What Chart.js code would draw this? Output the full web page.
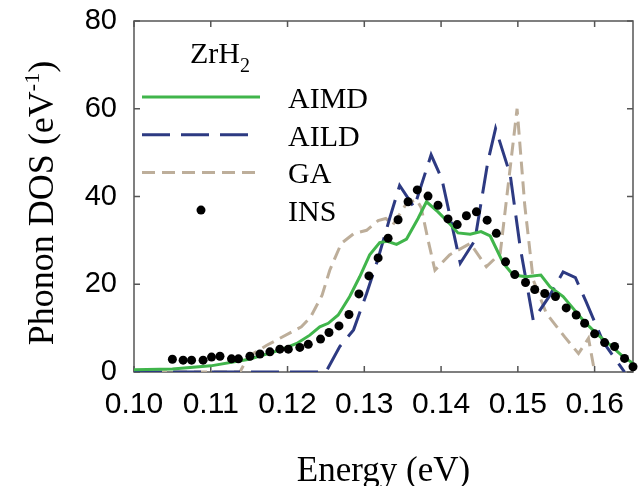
<!DOCTYPE html>
<html>
<head>
<meta charset="utf-8">
<script src="https://cdn.jsdelivr.net/npm/chart.js@4.4.0/dist/chart.umd.min.js"></script>
<style>
  html, body { margin: 0; padding: 0; background: #fff; }
  canvas { display: block; }
</style>
</head>
<body>
<canvas id="dosChart" width="641" height="486"></canvas>
<script>
// ZrH2 phonon density of states
var xTickValues = [0.10, 0.11, 0.12, 0.13, 0.14, 0.15, 0.16];
var yTickValues = [0, 20, 40, 60, 80];

var energyAIMD = [0.1000, 0.1050, 0.1100, 0.1150, 0.1190, 0.1212, 0.1229, 0.1242, 0.1253, 0.1266,
  0.1281, 0.1294, 0.1307, 0.1320, 0.1330, 0.1342, 0.1355, 0.1370, 0.1381, 0.1396,
  0.1410, 0.1422, 0.1438, 0.1452, 0.1464, 0.1481, 0.1494, 0.1511, 0.1530, 0.1542,
  0.1559, 0.1572, 0.1585, 0.1602, 0.1620, 0.1637, 0.1650];
var dosAIMD = [0.5, 0.7, 1.4, 2.9, 5.0, 6.5, 8.4, 10.3, 11.1, 13.0,
  17.2, 21.7, 26.7, 29.5, 29.8, 29.1, 30.3, 35.0, 38.8, 36.5,
  34.0, 31.7, 31.4, 32.0, 31.0, 24.8, 22.1, 21.7, 22.1, 19.4,
  17.2, 14.5, 11.8, 8.8, 6.2, 3.5, 2.0];

var energyAILD = [0.1000, 0.1250, 0.1268, 0.1286, 0.1303, 0.1318, 0.1333, 0.1346, 0.1365, 0.1387,
  0.1401, 0.1425, 0.1444, 0.1461, 0.1471, 0.1490, 0.1503, 0.1520, 0.1540, 0.1559,
  0.1575, 0.1589, 0.1611, 0.1639];
var dosAILD = [0, 0, 5.8, 9.6, 17.9, 25.9, 35.0, 42.5, 37.5, 49.5,
  44.0, 24.8, 30.0, 48.0, 55.5, 45.0, 28.5, 11.8, 17.0, 22.8,
  21.5, 16.0, 6.9, 0];

var energyGA = [0.1000, 0.1138, 0.1149, 0.1173, 0.1186, 0.1218, 0.1230, 0.1245, 0.1255, 0.1270,
  0.1286, 0.1303, 0.1318, 0.1328, 0.1337, 0.1355, 0.1368, 0.1374, 0.1383, 0.1392,
  0.1411, 0.1438, 0.1459, 0.1477, 0.1499, 0.1509, 0.1520, 0.1537, 0.1561, 0.1579,
  0.1592, 0.1600];
var dosGA = [0, 0, 3.5, 6.1, 7.3, 10.3, 12.5, 17.5, 23.2, 29.3,
  31.5, 32.3, 34.5, 35.0, 33.5, 38.4, 39.3, 37.5, 30.1, 23.2,
  26.7, 29.3, 24.0, 27.0, 60.0, 38.0, 21.0, 13.4, 8.0, 4.2,
  7.7, 0];

var energyINS = [0.1050, 0.1064, 0.1075, 0.1090, 0.1101, 0.1112, 0.1127, 0.1136, 0.1151, 0.1164,
  0.1177, 0.1190, 0.1201, 0.1216, 0.1227, 0.1243, 0.1254, 0.1267, 0.1280, 0.1293,
  0.1306, 0.1318, 0.1331, 0.1344, 0.1357, 0.1369, 0.1383, 0.1396, 0.1409, 0.1421,
  0.1433, 0.1446, 0.1460, 0.1472, 0.1484, 0.1496, 0.1510, 0.1522, 0.1535, 0.1549,
  0.1563, 0.1576, 0.1587, 0.1600, 0.1613, 0.1626, 0.1639, 0.1650];
var dosINS = [2.9, 2.7, 2.7, 2.7, 3.4, 3.6, 3.0, 3.0, 3.6, 4.1,
  4.6, 5.2, 5.2, 5.6, 6.3, 7.5, 9.0, 10.5, 13.1, 17.8,
  21.9, 26.0, 30.5, 34.7, 38.8, 41.5, 40.1, 38.0, 34.9, 33.6,
  35.6, 36.5, 34.6, 31.6, 25.1, 22.2, 20.4, 18.8, 17.9, 17.2,
  14.6, 13.0, 11.1, 8.7, 6.7, 5.8, 3.1, 1.2];

var SERIF = "'Liberation Serif', 'Times New Roman', serif";
var SANS = "'Liberation Sans', Arial, sans-serif";

function pts(xs, ys) {
  return xs.map(function (x, i) { return { x: x, y: ys[i] }; });
}

// draws a run of text pieces (for sub/superscripts), returns width
function runText(c, pieces, x, y, measureOnly) {
  var w = 0;
  pieces.forEach(function (p) {
    c.font = p.size + 'px ' + SERIF;
    if (!measureOnly) c.fillText(p.t, x + w, y + (p.dy || 0));
    w += c.measureText(p.t).width;
  });
  return w;
}

var framePlugin = {
  id: 'framePlugin',
  beforeDatasetsDraw: function (chart) {
    var c = chart.ctx, a = chart.chartArea;
    var xs = chart.scales.x, ys = chart.scales.y;
    c.save();
    c.strokeStyle = '#555';
    c.lineWidth = 1.5;
    c.strokeRect(a.left, a.top, a.right - a.left, a.bottom - a.top);
    c.beginPath();
    xTickValues.forEach(function (v) {
      var p = xs.getPixelForValue(v);
      c.moveTo(p, a.bottom); c.lineTo(p, a.bottom - 6);
      c.moveTo(p, a.top); c.lineTo(p, a.top + 6);
    });
    yTickValues.forEach(function (v) {
      var p = ys.getPixelForValue(v);
      c.moveTo(a.left, p); c.lineTo(a.left + 6, p);
      c.moveTo(a.right, p); c.lineTo(a.right - 6, p);
    });
    c.stroke();
    c.restore();
  },
  afterDraw: function (chart) {
    var c = chart.ctx, a = chart.chartArea;
    c.save();
    c.fillStyle = '#000';
    c.textBaseline = 'alphabetic';

    // legend inside the plot
    runText(c, [{ t: 'ZrH', size: 30 }, { t: '2', size: 20, dy: 9 }], a.left + 56, a.top + 42);
    var lens = { AIMD: 118, AILD: 106, GA: 116 };
    chart.data.datasets.forEach(function (ds, i) {
      var y = a.top + 76 + i * 37.7;
      if (ds.showLine) {
        c.strokeStyle = ds.borderColor;
        c.lineWidth = ds.borderWidth;
        c.setLineDash(ds.borderDash || []);
        c.beginPath();
        c.moveTo(a.left + 8, y);
        c.lineTo(a.left + 8 + lens[ds.label], y);
        c.stroke();
        c.setLineDash([]);
      } else {
        c.fillStyle = ds.backgroundColor;
        c.beginPath();
        c.arc(a.left + 67, y, ds.pointRadius, 0, Math.PI * 2);
        c.fill();
        c.fillStyle = '#000';
      }
      c.font = '30px ' + SERIF;
      c.fillText(ds.label, a.left + 154, y + 11);
    });

    // axis titles
    c.font = '35px ' + SERIF;
    c.textAlign = 'center';
    c.fillText('Energy (eV)', (a.left + a.right) / 2, 481);
    c.textAlign = 'left';

    var yTitle = [{ t: 'Phonon DOS (eV', size: 36 }, { t: '-1', size: 22, dy: -14 }, { t: ')', size: 36 }];
    c.translate(53, 203);
    c.rotate(-Math.PI / 2);
    var w = runText(c, yTitle, 0, 0, true);
    runText(c, yTitle, -w / 2, 0);
    c.restore();
  }
};

var ctx = document.getElementById('dosChart');
var dosChart = new Chart(ctx, {
  type: 'scatter',
  data: {
    datasets: [
      { label: 'AIMD', data: pts(energyAIMD, dosAIMD), showLine: true, borderColor: '#40b54b',
        borderWidth: 3, pointRadius: 0, order: 1 },
      { label: 'AILD', data: pts(energyAILD, dosAILD), showLine: true, borderColor: '#2d3a82',
        borderWidth: 3, borderDash: [28, 11], pointRadius: 0, order: 2 },
      { label: 'GA', data: pts(energyGA, dosGA), showLine: true, borderColor: '#bdae9a',
        borderWidth: 3, borderDash: [13, 7], pointRadius: 0, order: 3 },
      { label: 'INS', data: pts(energyINS, dosINS), showLine: false, backgroundColor: '#000',
        borderWidth: 0, pointRadius: 4.5, order: 0, clip: 10 }
    ]
  },
  options: {
    responsive: false,
    animation: false,
    layout: { padding: { top: 21, right: 8, left: 0, bottom: 0 } },
    plugins: { legend: { display: false }, tooltip: { enabled: false } },
    scales: {
      x: {
        type: 'linear', min: 0.10, max: 0.165,
        afterBuildTicks: function (s) { s.ticks = xTickValues.map(function (v) { return { value: v }; }); },
        afterFit: function (s) { s.height = 114; s.paddingLeft = 0; s.paddingRight = 0; },
        grid: { display: false, drawTicks: false },
        border: { display: false },
        ticks: { color: '#000', padding: 15, maxRotation: 0, autoSkip: false,
          font: { family: SANS, size: 30 },
          callback: function (v) { return v.toFixed(2); } }
      },
      y: {
        min: 0, max: 80,
        afterBuildTicks: function (s) { s.ticks = yTickValues.map(function (v) { return { value: v }; }); },
        afterFit: function (s) { s.width = 134; s.paddingTop = 0; s.paddingBottom = 0; },
        grid: { display: false, drawTicks: false },
        border: { display: false },
        ticks: { color: '#000', padding: 17, font: { family: SANS, size: 29 } }
      }
    }
  },
  plugins: [framePlugin]
});
</script>
</body>
</html>
